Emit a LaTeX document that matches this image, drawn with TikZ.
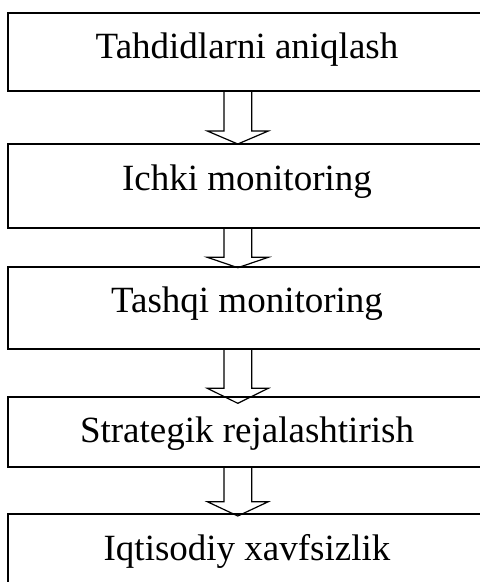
\documentclass[tikz,border=0pt]{standalone}
\usepackage{fontspec}
\setmainfont{Liberation Serif}
\usetikzlibrary{calc}
\tikzset{
  stagebox/.style={draw, line width=1.8pt, rectangle, anchor=north west, minimum width=478pt, inner sep=0pt, outer sep=0pt},
  stagetext/.style={anchor=base, inner sep=0pt, outer sep=0pt, font=\fontsize{37}{44}\selectfont},
  blk/.style={draw, line width=1.2pt, line join=miter},
}
\newcommand\blkarrow[4]{%
  \draw[blk] ($(ax |- #1.south)+(-13.9,0)$) -- ($(ax |- #2.north)+(-13.9,#4-#3)$) -- ($(ax |- #2.north)+(-30.5,#4-#3)$) -- ($(ax |- #2.north)+(0,#4)$) -- ($(ax |- #2.north)+(30.5,#4-#3)$) -- ($(ax |- #2.north)+(13.9,#4-#3)$) -- ($(ax |- #1.south)+(13.9,0)$) -- cycle;}
\begin{document}
\begin{tikzpicture}[x=1pt,y=-1pt]
\useasboundingbox (0,0) rectangle (480,582);
\clip (0,0) rectangle (480,582);
\coordinate (ax) at (237.8,0);
\node[stagebox, minimum height=78pt] (b1) at (8,12.7) {};
\node[stagebox, minimum height=83.7pt] (b2) at (8,144) {};
\node[stagebox, minimum height=82.6pt] (b3) at (8,266.7) {};
\node[stagebox, minimum height=70pt] (b4) at (8,396.7) {};
\node[stagebox, minimum height=100pt] (b5) at (8,514) {};
\node[stagetext] (t1) at ([yshift=-46pt]b1.north) {Tahdidlarni aniqlash};
\node[stagetext] (t2) at ([yshift=-46pt]b2.north) {Ichki monitoring};
\node[stagetext] (t3) at ([yshift=-46pt]b3.north) {Tashqi monitoring};
\node[stagetext] (t4) at ([yshift=-46pt]b4.north) {Strategik rejalashtirish};
\node[stagetext] (t5) at ([yshift=-46pt]b5.north) {Iqtisodiy xavfsizlik};
\blkarrow{b1}{b2}{13}{0}
\blkarrow{b2}{b3}{10.4}{1}
\blkarrow{b3}{b4}{15}{6.6}
\blkarrow{b4}{b5}{14.3}{2}
\end{tikzpicture}
\end{document}
